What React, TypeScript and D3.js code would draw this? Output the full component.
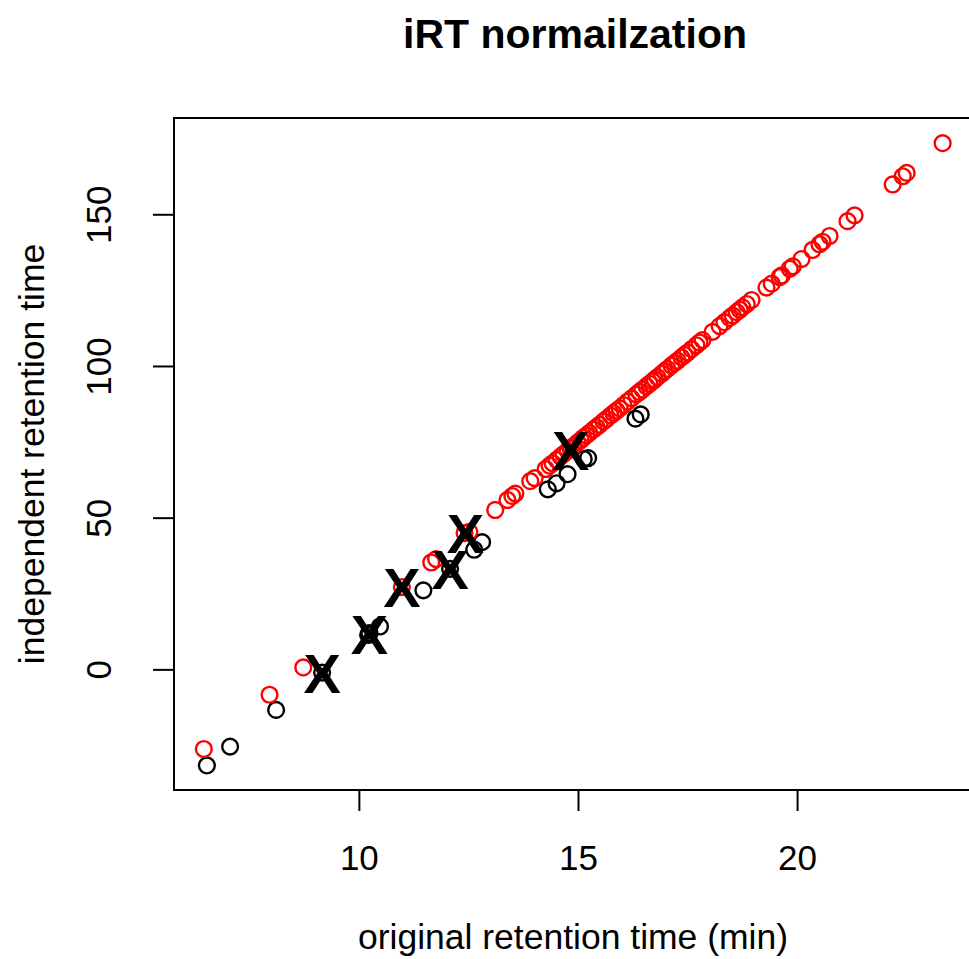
import React from "react";
import * as d3 from "d3";

if (typeof document !== "undefined") {
  document.body.style.margin = "0";
}

// Red points (retention times normalized)
const redX = [6.45, 7.95, 8.72, 10.97, 11.64, 11.75, 12.40, 12.51,
  13.10, 13.38, 13.49, 13.56, 13.90, 14.00, 14.25, 14.34, 14.41, 14.50, 14.59, 14.66,
  14.75, 14.82, 14.89, 14.98, 15.05, 15.11, 15.18, 15.25, 15.34, 15.41, 15.48, 15.57,
  15.64, 15.73, 15.80, 15.87, 15.94, 16.03, 16.12, 16.21, 16.32, 16.39, 16.46, 16.55,
  16.62, 16.69, 16.74, 16.80, 16.90, 16.96, 17.03, 17.12, 17.19, 17.26, 17.35, 17.42,
  17.49, 17.58, 17.69, 17.76, 17.83, 18.06, 18.22, 18.33, 18.45, 18.52, 18.61, 18.68,
  18.74, 18.84, 18.95, 19.29, 19.41, 19.59, 19.64, 19.82, 19.89, 20.09, 20.34, 20.50,
  20.57, 20.73, 21.14, 21.30, 22.17, 22.40, 22.49, 23.31];
const redY = [-26.1, -8.2, 0.8, 27.3, 35.4, 36.5, 45.1, 45.5,
  52.7, 56.0, 57.3, 58.1, 62.2, 63.2, 66.2, 67.3, 68.1, 69.2, 70.3, 71.1,
  72.2, 73.0, 73.8, 74.9, 75.7, 76.5, 77.3, 78.1, 79.2, 80.0, 80.8, 81.9,
  82.7, 83.8, 84.6, 85.4, 86.2, 87.3, 88.4, 89.5, 90.8, 91.6, 92.4, 93.5,
  94.3, 95.1, 95.7, 96.5, 97.6, 98.4, 99.2, 100.3, 101.1, 101.9, 103.0, 103.8,
  104.6, 105.7, 107.0, 107.9, 108.7, 111.4, 113.3, 114.6, 116.0, 116.8, 117.9, 118.7,
  119.5, 120.6, 121.9, 126.0, 127.3, 129.5, 130.0, 132.2, 133.0, 135.4, 138.4, 140.3,
  141.1, 143.0, 147.9, 149.8, 160.0, 162.7, 163.8, 173.6];

// Black points
const blackX = [6.52, 7.05, 8.10, 9.15, 10.20, 10.23, 10.47, 11.46, 12.07, 12.62, 12.80,
  14.30, 14.50, 14.75, 15.12, 15.22, 16.30, 16.42];
const blackY = [-31.5, -25.3, -13.2, -0.9, 11.5, 12.1, 14.3, 26.2, 33.3, 39.6, 42.1,
  59.5, 61.5, 64.5, 69.5, 69.8, 82.8, 84.2];

// iRT reference peptides (X marks)
const irtX = [9.15, 10.23, 10.97, 12.07, 12.42, 14.82];
const irtY = [-0.9, 11.8, 27.3, 33.3, 45.0, 72.5];

const xTicks = [10, 15, 20];
const yTicks = [0, 50, 100, 150];

const W = 969;
const H = 959;
const L = 174, R = 972, T = 118, B = 790;

export default function App() {
  const x = d3.scaleLinear().domain([5.77, 23.98]).range([L, R]);
  const y = d3.scaleLinear().domain([-39.6, 181.9]).range([B, T]);
  const font = "'Liberation Sans', Arial, Helvetica, sans-serif";
  return (
    <svg width={W} height={H} style={{ display: "block", background: "#fff" }} fontFamily={font}>
      <rect x={0} y={0} width={W} height={H} fill="#fff" />
      <text x={575} y={48} textAnchor="middle" fontSize={41} fontWeight="bold">
        iRT normailzation
      </text>
      {blackX.map((v, i) => (
        <circle key={"b" + i} cx={x(v)} cy={y(blackY[i])} r={7.9} fill="none" stroke="#000" strokeWidth={2.4} />
      ))}
      {redX.map((v, i) => (
        <circle key={"r" + i} cx={x(v)} cy={y(redY[i])} r={7.9} fill="none" stroke="#ff0000" strokeWidth={2.4} />
      ))}
      {irtX.map((v, i) => (
        <text key={"x" + i} x={x(v)} y={y(irtY[i]) + 20} textAnchor="middle" fontSize={56} fontWeight="bold">
          X
        </text>
      ))}
      <rect x={L} y={T} width={R - L} height={B - T} fill="none" stroke="#000" strokeWidth={2} />
      {xTicks.map((t) => (
        <g key={"xt" + t}>
          <line x1={x(t)} x2={x(t)} y1={B} y2={B + 21} stroke="#000" strokeWidth={2} />
          <text x={x(t)} y={870} textAnchor="middle" fontSize={35}>{t}</text>
        </g>
      ))}
      {yTicks.map((t) => (
        <g key={"yt" + t}>
          <line x1={L} x2={L - 21} y1={y(t)} y2={y(t)} stroke="#000" strokeWidth={2} />
          <text transform={`translate(111,${y(t)}) rotate(-90)`} textAnchor="middle" fontSize={35}>{t}</text>
        </g>
      ))}
      <text x={573} y={949} textAnchor="middle" fontSize={35.5}>original retention time (min)</text>
      <text transform={`translate(44,${(T + B) / 2}) rotate(-90)`} textAnchor="middle" fontSize={35.5}>
        independent retention time
      </text>
    </svg>
  );
}
